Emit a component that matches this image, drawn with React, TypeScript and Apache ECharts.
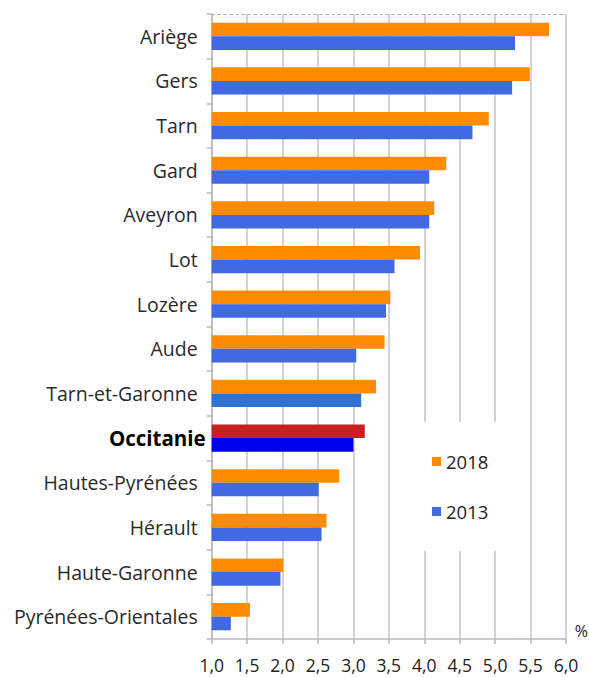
import React, { useEffect, useRef } from "react";
import * as echarts from "echarts";

const categories = [
  "Ariège",
  "Gers",
  "Tarn",
  "Gard",
  "Aveyron",
  "Lot",
  "Lozère",
  "Aude",
  "Tarn-et-Garonne",
  "Occitanie",
  "Hautes-Pyrénées",
  "Hérault",
  "Haute-Garonne",
  "Pyrénées-Orientales",
];
const values2018 = [5.76, 5.49, 4.91, 4.31, 4.14, 3.94, 3.52, 3.44, 3.32, 3.16, 2.8, 2.62, 2.01, 1.54];
const values2013 = [5.28, 5.24, 4.68, 4.07, 4.07, 3.58, 3.46, 3.04, 3.11, 3.0, 2.51, 2.55, 1.97, 1.27];
const seriesNames = ["2018", "2013"];
const xTicks = { min: 1, max: 6, step: 0.5 };

const ORANGE = "#FF8C00";
const BLUE = "#4169E1";
const HIGHLIGHT = "Occitanie";

export default function App() {
  const ref = useRef<HTMLDivElement>(null);
  useEffect(() => {
    if (!ref.current) return;
    const chart = echarts.init(ref.current, undefined, { renderer: "svg" });
    const font = "Open Sans";
    const d2018 = values2018.map((v, i) => {
      if (categories[i] === HIGHLIGHT) return { value: v, itemStyle: { color: "#C62020" } };
      return v;
    });
    const d2013 = values2013.map((v, i) => {
      if (categories[i] === HIGHLIGHT) return { value: v, itemStyle: { color: "#0000F0" } };
      if (categories[i] === "Tarn-et-Garonne") return { value: v, itemStyle: { color: "#2F72D0" } };
      return v;
    });
    chart.setOption({
      animation: false,
      textStyle: { fontFamily: font },
      grid: { left: 211.7, right: 23, top: 14, bottom: 38, containLabel: false },
      legend: {
        orient: "vertical",
        left: 410,
        top: 422,
        backgroundColor: "#ffffff",
        padding: [30, 32, 30, 22],
        itemGap: 31,
        itemWidth: 9,
        itemHeight: 9,
        icon: "rect",
        textStyle: { fontSize: 18.5, color: "#222", fontFamily: font },
        data: seriesNames,
      },
      graphic: [
        {
          type: "text",
          right: 1,
          top: 623,
          style: { text: "%", fontSize: 16, fill: "#222", fontFamily: font },
        },
      ],
      xAxis: [
        {
          type: "value",
          min: xTicks.min,
          max: xTicks.max,
          interval: xTicks.step,
          axisLine: { show: true, lineStyle: { color: "#b8b8b8", width: 1.5 } },
          axisTick: { show: true, length: 5, lineStyle: { color: "#b8b8b8", width: 1.5 } },
          splitLine: { show: true, lineStyle: { color: "#c4c4c4", width: 1.5 } },
          axisLabel: {
            fontSize: 17.5,
            color: "#222",
            margin: 17,
            fontFamily: font,
            formatter: (v: number) => v.toFixed(1).replace(".", ","),
          },
        },
        {
          type: "value",
          position: "top",
          min: xTicks.min,
          max: xTicks.max,
          interval: xTicks.step,
          axisLine: { show: true, lineStyle: { color: "#b0b0b0", width: 1, type: [3, 3] } },
          axisTick: { show: false },
          splitLine: { show: false },
          axisLabel: { show: false },
        },
      ],
      yAxis: {
        type: "category",
        inverse: true,
        data: categories,
        axisLine: { show: true, lineStyle: { color: "#b8b8b8", width: 1.5 } },
        axisTick: { show: true, length: 5, lineStyle: { color: "#b8b8b8", width: 1.5 } },
        axisLabel: {
          fontSize: 19.5,
          color: "#2a2a2a",
          margin: 6,
          fontFamily: font,
          formatter: (v: string) => (v === HIGHLIGHT ? `{b|${v}}` : `{n|${v}}`),
          rich: {
            n: { fontSize: 19.5, color: "#2a2a2a", fontFamily: font, padding: [0, 8, 0, 0] },
            b: { fontSize: 20.5, fontWeight: "bold", color: "#000", fontFamily: font },
          },
        },
      },
      series: [
        {
          name: seriesNames[0],
          type: "bar",
          data: d2018,
          itemStyle: { color: ORANGE },
          barGap: "0%",
          barCategoryGap: "39%",
        },
        {
          name: seriesNames[1],
          type: "bar",
          data: d2013,
          itemStyle: { color: BLUE },
          barGap: "0%",
          barCategoryGap: "39%",
        },
      ],
    });
    return () => chart.dispose();
  }, []);
  return (
    <div
      ref={ref}
      style={{ position: "fixed", left: 0, top: 0, width: 589, height: 677, background: "#fff" }}
    />
  );
}
